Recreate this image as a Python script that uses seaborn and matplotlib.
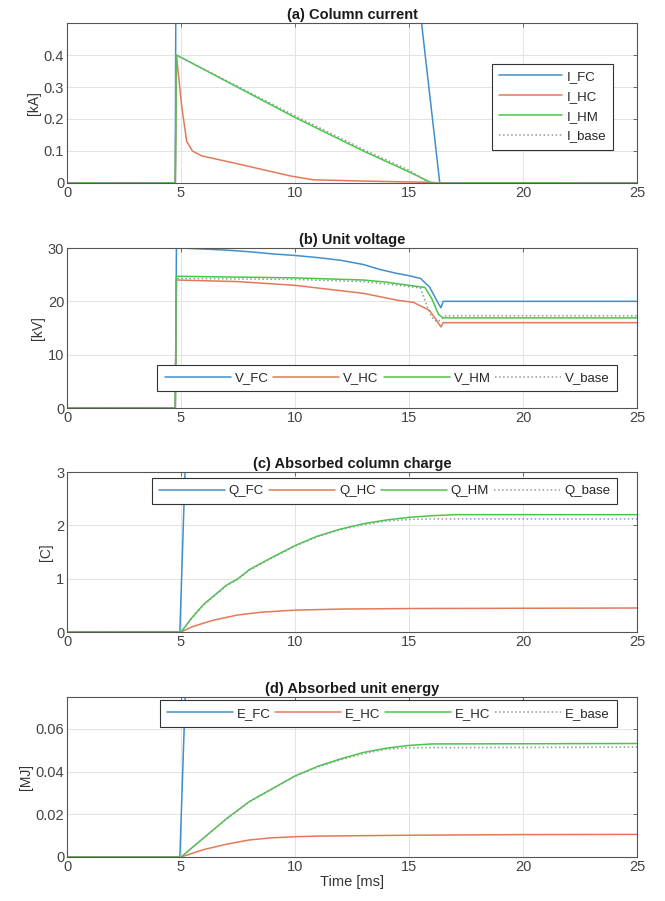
import numpy as np
import pandas as pd
import seaborn as sns
import matplotlib.pyplot as plt

# ---- (a) column current [kA]
t_ifc = [0, 4.75, 4.8, 15.0, 15.55, 16.35, 25]
i_fc = [0, 0, 1.3, 1.0, 0.5, 0, 0]
t_ihc = [0, 4.75, 4.8, 4.9, 5.03, 5.25, 5.5, 5.9, 7.6, 9.8, 10.8, 13, 16, 16.3, 25]
i_hc = [0, 0, 0.40, 0.33, 0.24, 0.13, 0.10, 0.085, 0.058, 0.022, 0.01, 0.006, 0.002, 0, 0]
t_ihm = [0, 4.75, 4.8, 10, 13, 15, 16.0, 25]
i_hm = [0, 0, 0.40, 0.205, 0.10, 0.035, 0, 0]
t_ibase = [0, 4.75, 4.8, 10, 13, 15, 15.9, 25]
i_base = [0, 0, 0.40, 0.21, 0.105, 0.04, 0, 0]

# ---- (b) unit voltage [kV]
t_vfc = [0, 4.75, 4.8, 5, 6, 7, 8, 9, 10, 11, 12, 13, 13.7, 14.5, 14.9, 15.5, 15.9, 16.3, 16.4, 16.5, 25]
v_fc = [0, 0, 30.5, 30, 29.8, 29.6, 29.3, 28.9, 28.6, 28.2, 27.7, 26.9, 26.0, 25.2, 24.9, 24.3, 22.7, 19.5, 18.8, 20, 20]
t_vhc = [0, 4.75, 4.8, 7.5, 10, 12, 13, 14.5, 15.2, 15.9, 16.2, 16.4, 16.5, 25]
v_hc = [0, 0, 24.0, 23.7, 23.0, 22.0, 21.5, 20.2, 19.8, 18.3, 16.5, 15.2, 16.0, 16.0]
t_vhm = [0, 4.75, 4.8, 10, 13, 14, 15, 15.7, 16.0, 16.3, 16.5, 25]
v_hm = [0, 0, 24.7, 24.4, 24.0, 23.6, 23.0, 22.6, 20.5, 17.5, 16.9, 16.9]
t_vbase = [0, 4.75, 4.8, 10, 13, 14.5, 15.5, 15.8, 16.0, 16.2, 16.4, 16.6, 25]
v_base = [0, 0, 24.3, 24.1, 23.7, 23.0, 22.5, 19.0, 17.0, 16.2, 16.5, 17.3, 17.3]

# ---- (c) absorbed column charge [C]
t_qfc = [0, 4.95, 5.2, 25]
q_fc = [0, 0, 3.3, 3.5]
t_qhc = [0, 5, 5.5, 6.4, 7.5, 8.5, 10, 12, 15, 25]
q_hc = [0, 0, 0.1, 0.22, 0.32, 0.37, 0.41, 0.43, 0.44, 0.45]
t_qhm = [0, 5, 5.5, 6, 7, 7.5, 8, 9, 10, 11, 12, 13, 14, 15, 16, 17, 25]
q_hm = [0, 0, 0.28, 0.52, 0.88, 1.0, 1.17, 1.4, 1.62, 1.8, 1.93, 2.03, 2.1, 2.15, 2.18, 2.2, 2.2]
t_qbase = [0, 5, 5.5, 6, 7, 7.5, 8, 9, 10, 11, 12, 13, 14, 15, 16, 25]
q_base = [0, 0, 0.27, 0.51, 0.87, 0.99, 1.16, 1.39, 1.61, 1.79, 1.92, 2.01, 2.08, 2.11, 2.12, 2.12]

# ---- (d) absorbed unit energy [MJ]
t_efc = [0, 4.95, 5.2, 25]
e_fc = [0, 0, 0.08, 0.09]
t_ehc = [0, 5, 6, 7, 8, 9, 10, 11, 15, 20, 25]
e_hc = [0, 0, 0.0035, 0.006, 0.008, 0.009, 0.0095, 0.0098, 0.0102, 0.0105, 0.0106]
t_ehm = [0, 5, 6, 7, 8, 9, 10, 11, 12, 13, 14, 15, 16, 25]
e_hm = [0, 0, 0.009, 0.018, 0.026, 0.032, 0.038, 0.0425, 0.046, 0.049, 0.051, 0.0523, 0.053, 0.0532]
t_ebase = [0, 5, 6, 7, 8, 9, 10, 11, 12, 13, 14, 15, 25]
e_base = [0, 0, 0.0089, 0.0178, 0.0258, 0.0318, 0.0378, 0.0422, 0.0455, 0.0485, 0.0505, 0.0512, 0.0515]

c_fc = '#3f8fcf'
c_hc = '#e27a5a'
c_hm = '#46c846'
c_base = '#8f9c9a'

panels = [
    ('(a) Column current', '[kA]', (0, 0.5), [0, 0.1, 0.2, 0.3, 0.4],
     [(t_ifc, i_fc, 'I_FC'), (t_ihc, i_hc, 'I_HC'), (t_ihm, i_hm, 'I_HM'), (t_ibase, i_base, 'I_base')]),
    ('(b) Unit voltage', '[kV]', (0, 30), [0, 10, 20, 30],
     [(t_vfc, v_fc, 'V_FC'), (t_vhc, v_hc, 'V_HC'), (t_vhm, v_hm, 'V_HM'), (t_vbase, v_base, 'V_base')]),
    ('(c) Absorbed column charge', '[C]', (0, 3), [0, 1, 2, 3],
     [(t_qfc, q_fc, 'Q_FC'), (t_qhc, q_hc, 'Q_HC'), (t_qhm, q_hm, 'Q_HM'), (t_qbase, q_base, 'Q_base')]),
    ('(d) Absorbed unit energy', '[MJ]', (0, 0.075), [0, 0.02, 0.04, 0.06],
     [(t_efc, e_fc, 'E_FC'), (t_ehc, e_hc, 'E_HC'), (t_ehm, e_hm, 'E_HC'), (t_ebase, e_base, 'E_base')]),
]
colors = [c_fc, c_hc, c_hm, c_base]
styles = ['-', '-', '-', ':']

# legend boxes in axes coords (x0, y0, w, h); panel (a) uses its upper right corner
leg_boxes = [(0.970, 0.7875), (0.147, 0.0625, 0.83, 0.175),
             (0.137, 0.756, 0.84, 0.184), (0.151, 0.77, 0.826, 0.1675)]

sns.set_style('whitegrid')
plt.rcParams['font.family'] = ['Liberation Sans', 'DejaVu Sans']

fig = plt.figure(figsize=(6.65, 9.01), dpi=100)
W, H = 665, 901
tops = [23, 248, 472, 697]
for k, (title, ylab, ylim, yticks, series) in enumerate(panels):
    ax = fig.add_axes([67 / W, 1 - (tops[k] + 160) / H, 570 / W, 160 / H])
    for (t, v, name), col, ls in zip(series, colors, styles):
        sns.lineplot(x=t, y=v, ax=ax, color=col, linestyle=ls, linewidth=1.1,
                     label=name, estimator=None, sort=False)
    ax.set_xlim(0, 25)
    ax.set_ylim(*ylim)
    ax.set_xticks([0, 5, 10, 15, 20, 25])
    ax.set_yticks(yticks)
    ax.set_yticklabels([('%g' % y) for y in yticks])
    ax.set_title(title, fontsize=10.5, fontweight='bold', pad=3, color='#1a1a1a')
    ax.set_ylabel(ylab, fontsize=10, labelpad=2, color='#333333')
    ax.grid(True, color='#e3e3e3', linewidth=0.7)
    for s in ax.spines.values():
        s.set_color('#555555')
        s.set_linewidth(0.8)
    ax.tick_params(direction='in', length=3, width=0.6, color='#555555', labelsize=10.5,
                   labelcolor='#444444', top=True, right=True, pad=2)
    if k == 0:
        leg = ax.legend(loc='upper right', bbox_to_anchor=leg_boxes[k], fontsize=9.5,
                        handlelength=4.8, frameon=True, fancybox=False, borderpad=0.55,
                        labelspacing=0.57, handletextpad=0.3)
    else:
        leg = ax.legend(loc='lower left', bbox_to_anchor=leg_boxes[k], mode='expand', ncol=4,
                        fontsize=9.5, handlelength=5.0, frameon=True, fancybox=False,
                        borderpad=0.55, handletextpad=0.3, columnspacing=0.6)
    leg.get_frame().set_edgecolor('#333333')
    leg.get_frame().set_linewidth(0.8)
    leg.get_frame().set_alpha(1)
    if k == 3:
        ax.set_xlabel('Time [ms]', fontsize=10.5, labelpad=1, color='#333333')

fig.savefig('out.png', dpi=100)
